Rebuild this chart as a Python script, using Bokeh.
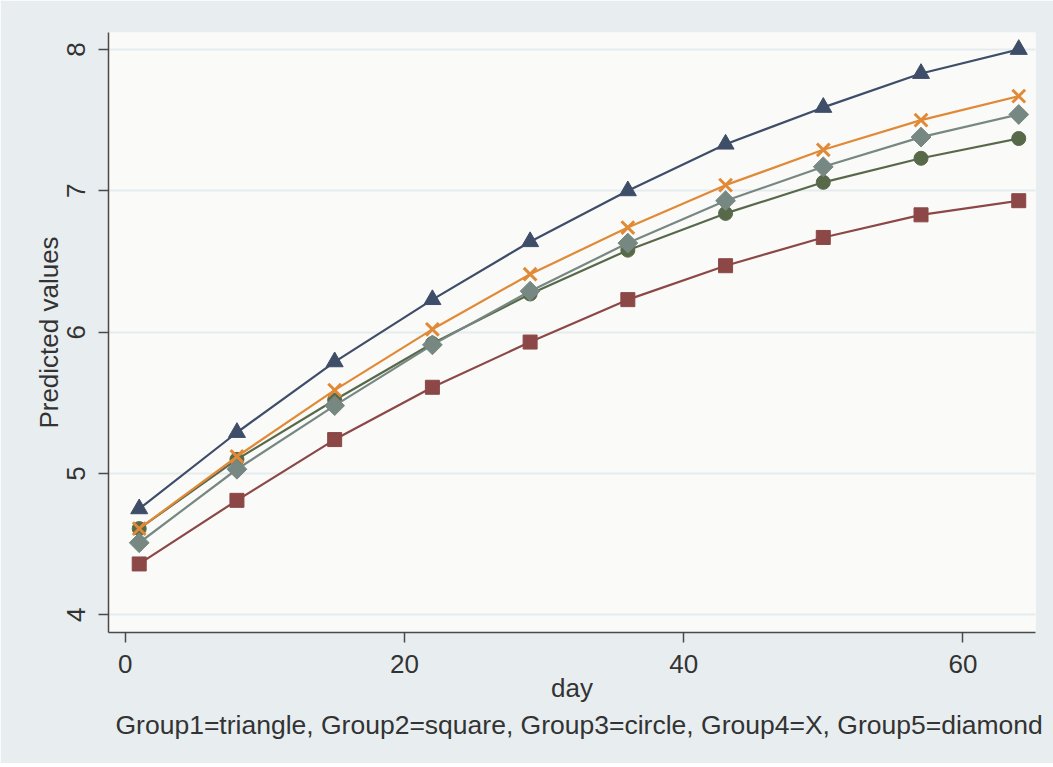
import math
from bokeh.plotting import figure
from bokeh.models import FixedTicker, Title
from bokeh.embed import file_html
from bokeh.resources import INLINE

days = [1, 8, 15, 22, 29, 36, 43, 50, 57, 64]
group1_triangle = [4.75, 5.29, 5.79, 6.23, 6.64, 7.00, 7.33, 7.59, 7.83, 8.00]
group2_square = [4.36, 4.81, 5.24, 5.61, 5.93, 6.23, 6.47, 6.67, 6.83, 6.93]
group3_circle = [4.61, 5.10, 5.52, 5.92, 6.27, 6.58, 6.84, 7.06, 7.23, 7.37]
group4_x = [4.61, 5.12, 5.59, 6.02, 6.41, 6.74, 7.04, 7.29, 7.50, 7.67]
group5_diamond = [4.51, 5.03, 5.48, 5.91, 6.29, 6.63, 6.93, 7.17, 7.38, 7.54]

x_ticks = [0, 20, 40, 60]
y_ticks = [4, 5, 6, 7, 8]
caption = "Group1=triangle, Group2=square, Group3=circle, Group4=X, Group5=diamond"

FONT = "Liberation Sans"
TXT = "#333333"

p = figure(output_backend="svg", toolbar_location=None,
           x_range=(-1.2, 65.2), y_range=(3.875, 8.12),
           min_border_left=108, min_border_top=32, min_border_right=18,
           min_border_bottom=131)
p.frame_width = 927
p.frame_height = 600
p.border_fill_color = "#e8eef0"
p.background_fill_color = "#fafaf8"
p.outline_line_color = None

p.xgrid.grid_line_color = None
p.ygrid.grid_line_color = "#e6ecee"
p.ygrid.grid_line_width = 2

p.xaxis.ticker = FixedTicker(ticks=x_ticks)
p.yaxis.ticker = FixedTicker(ticks=y_ticks)
for ax in (p.xaxis[0], p.yaxis[0]):
    ax.axis_line_color = "#4a4a4a"
    ax.axis_line_width = 1.5
    ax.major_tick_line_color = "#4a4a4a"
    ax.major_tick_line_width = 1.5
    ax.major_tick_out = 10
    ax.major_tick_in = 0
    ax.minor_tick_out = 0
    ax.minor_tick_in = 0
    ax.major_label_text_font = FONT
    ax.major_label_text_font_size = "26px"
    ax.major_label_text_color = TXT
    ax.axis_label_text_font = FONT
    ax.axis_label_text_font_size = "26px"
    ax.axis_label_text_font_style = "normal"
    ax.axis_label_text_color = TXT

p.xaxis.axis_label = "day"
p.xaxis.major_label_standoff = 12
p.xaxis.axis_label_standoff = -3
p.yaxis.axis_label = "Predicted values"
p.yaxis.major_label_orientation = "vertical"
p.yaxis.major_label_standoff = 13
p.yaxis.axis_label_standoff = 1

c_tri = "#3e4d68"
c_sq = "#8b4846"
c_circ = "#58694a"
c_x = "#e08a37"
c_dia = "#778883"

p.line(days, group1_triangle, line_color=c_tri, line_width=2.2)
p.scatter(days, group1_triangle, marker="triangle", size=17, fill_color=c_tri, line_color=c_tri)

p.line(days, group2_square, line_color=c_sq, line_width=2.2)
p.scatter(days, group2_square, marker="square", size=14, fill_color=c_sq, line_color=c_sq)

p.line(days, group3_circle, line_color=c_circ, line_width=2.2)
p.scatter(days, group3_circle, marker="circle", size=14, fill_color=c_circ, line_color=c_circ)

p.line(days, group4_x, line_color=c_x, line_width=2.2)
p.scatter(days, group4_x, marker="x", size=18, line_color=c_x, line_width=3)

p.line(days, group5_diamond, line_color=c_dia, line_width=2.2)
p.scatter(days, group5_diamond, marker="square", size=14, angle=math.pi / 4,
          fill_color=c_dia, line_color=c_dia)

cap = Title(text=caption, align="left", offset=7, text_font=FONT,
            text_font_size="26.5px", text_font_style="normal", text_color=TXT,
            standoff=4)
p.add_layout(cap, "below")

open("out.html", "w").write(file_html(p, INLINE))
